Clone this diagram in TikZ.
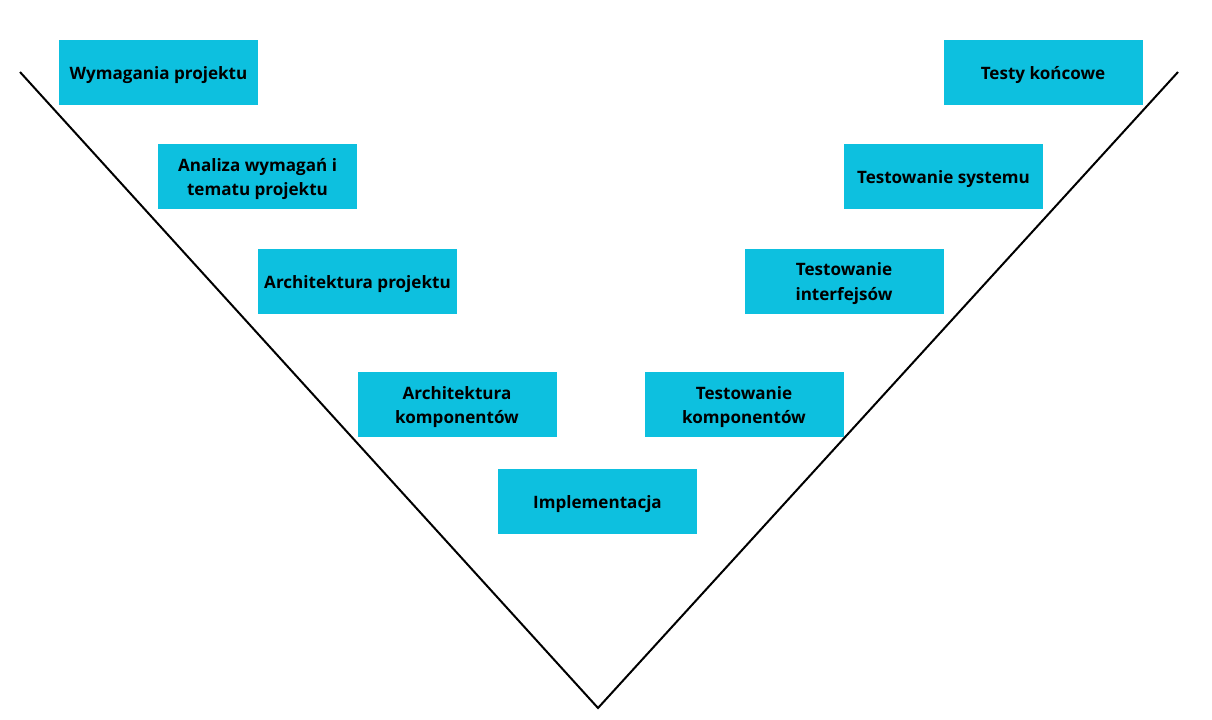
\documentclass[tikz,border=0pt]{standalone}
\usepackage{fontspec}
\setmainfont{Open Sans}
\definecolor{phasecyan}{RGB}{13,192,223}
\begin{document}
\begin{tikzpicture}[
  x=0.75pt, y=-0.75pt,
  phase/.style = {shape=rectangle, align=center,
    minimum width=149.25pt, minimum height=48.75pt, inner sep=2pt,
    yshift=-2pt, preaction={fill=phasecyan, transform canvas={yshift=2pt}},
    font=\bfseries\fontsize{12.8}{18.2}\selectfont},
  vline/.style = {line width=1.5pt, line join=miter}
  ]
  \useasboundingbox (0,0) rectangle (1212,719);
  % V shape
  \coordinate (left top) at (20,72);
  \coordinate (bottom) at (598,708);
  \coordinate (right top) at (1178,72);
  \draw[vline] (left top) -- (bottom) -- (right top);
  % left branch
  \node[phase] (req) at (158.5,72.5) {Wymagania projektu};
  \node[phase] (analysis) at (257.5,176.5) {Analiza wymagań i\\tematu projektu};
  \node[phase] (arch) at (357.5,281) {Architektura projektu};
  \node[phase] (comparch) at (457,404.5) {Architektura\\komponentów};
  % bottom
  \node[phase] (impl) at (597.5,501.5) {Implementacja};
  % right branch
  \node[phase] (comptest) at (744,404.5) {Testowanie\\komponentów};
  \node[phase] (inttest) at (844,281) {Testowanie\\interfejsów};
  \node[phase] (systest) at (943.5,176.5) {Testowanie systemu};
  \node[phase] (final) at (1043,72.5) {Testy końcowe};
\end{tikzpicture}
\end{document}
